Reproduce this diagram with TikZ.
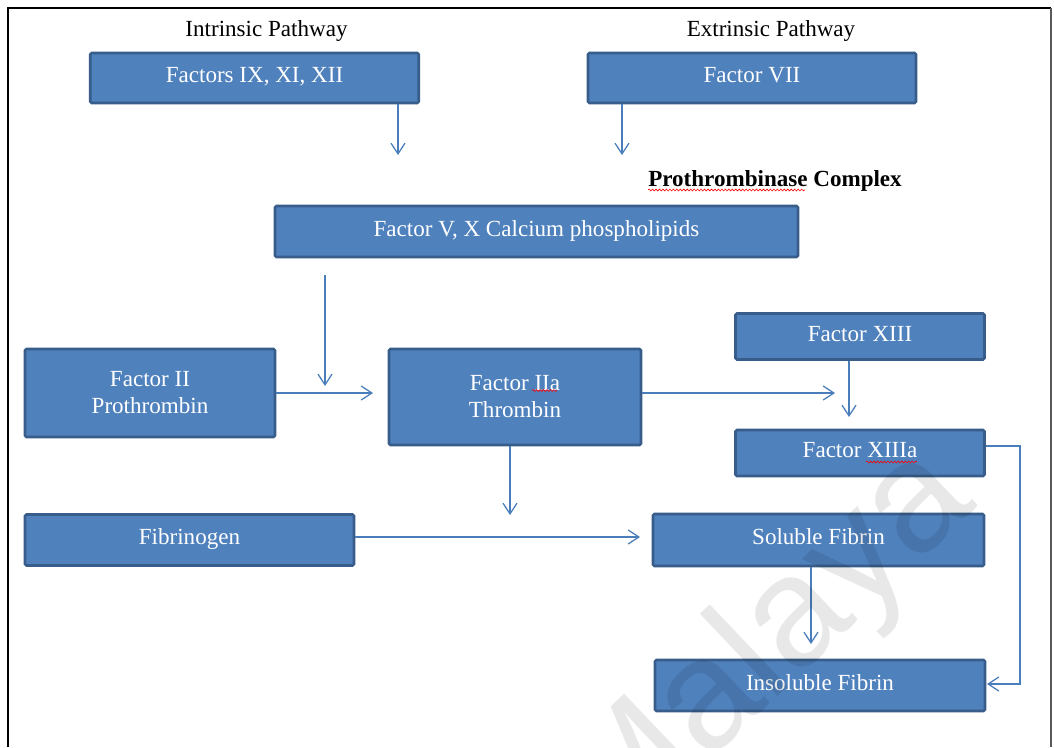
\documentclass[tikz,border=0pt]{standalone}
\usepackage{fontspec}
\setmainfont{Liberation Serif}
\newfontfamily\wmfont{Liberation Sans}
\usetikzlibrary{arrows.meta,decorations.pathmorphing}
\definecolor{boxfill}{RGB}{79,129,189}
\definecolor{boxline}{RGB}{56,93,138}
\definecolor{arrcol}{RGB}{74,126,187}
\newcommand\boxfont{\fontsize{17.3}{20.25}\selectfont}
\begin{document}
\begin{tikzpicture}[x=0.75pt,y=-0.75pt,
  box/.style={draw=boxline, line width=1.9pt, fill=boxfill, rounded corners=1pt,
    text=white, font=\boxfont, inner sep=0pt, align=center},
  one/.style={text height=12pt, text depth=5.1pt},
  sz/.style 2 args={minimum width=#1*0.75pt, minimum height=#2*0.75pt},
  arr/.style={draw=arrcol, line width=0.95pt, -{Straight Barb[length=8pt,width=10.5pt]}},
  title/.style={font=\boxfont, text=black, inner sep=0pt},
  wavy/.style={draw=red, line width=0.45pt, decorate,
    decoration={snake, amplitude=0.7pt, segment length=2.6pt}}
]
\useasboundingbox (0,0) rectangle (1054,747);
\fill[white] (0,0) rectangle (1054,747);

% frame
\draw[black, line width=1.5pt] (8,747) -- (8,8) -- (1051,8);
\draw[black!65, line width=1pt] (1051,8) -- (1051,747);

% titles
\node[title, anchor=base] (intr) at (266.5,36.7) {Intrinsic Pathway};
\node[title, anchor=base] (extr) at (771,36.7) {Extrinsic Pathway};
\node[title, anchor=base west, font=\boxfont\bfseries] (ptc) at (648,186.6) {Prothrombinase Complex};

% boxes
\node[box,one,sz={328.5}{50}] (f9) at (254.5,78) {Factors IX, XI, XII};
\node[box,one,sz={328}{50}] (f7) at (752,78) {Factor VII};
\node[box,one,sz={523}{51}] (f5) at (536.5,231.5) {Factor V, X Calcium phospholipids};
\node[box,sz={250}{88}] (f2) at (150,393) {Factor II\\Prothrombin};
\node[box,sz={252}{96}] (f2a) at (515,397) {Factor IIa\\Thrombin};
\node[box,one,sz={249}{46}] (f13) at (860,336.5) {Factor XIII};
\node[box,one,sz={249}{46}] (f13a) at (860,453) {Factor XIIIa};
\node[box,one,sz={329}{51}] (fib) at (189.5,540) {Fibrinogen};
\node[box,one,sz={331}{52}] (sol) at (818.5,540) {Soluble Fibrin};
\node[box,one,sz={330}{51}] (ins) at (820,685.5) {Insoluble Fibrin};

% spell-check underlines
\draw[wavy] (648,190) -- (805,190);
\draw[wavy] (532,390.5) -- (557,390.5);
\draw[wavy] (866,462) -- (917,462);

% connectors
\coordinate (a1) at (398,155);
\draw[arr] (f9.south -| a1) -- (a1);
\coordinate (a2) at (622,155);
\draw[arr] (f7.south -| a2) -- (a2);
\coordinate (a3s) at (325,275);
\coordinate (a3e) at (325,386);
\draw[arr] (a3s) -- (a3e);
\coordinate (a4) at (373,393);
\draw[arr] (f2.east |- a4) -- (a4);
\coordinate (a5) at (835,393);
\draw[arr] (f2a.east |- a5) -- (a5);
\coordinate (a6) at (849,417);
\draw[arr] (f13.south -| a6) -- (a6);
\coordinate (a7) at (510,515);
\draw[arr] (f2a.south -| a7) -- (a7);
\coordinate (a8) at (640,537);
\draw[arr] (fib.east |- a8) -- (a8);
\coordinate (a9) at (811,644);
\draw[arr] (sol.south -| a9) -- (a9);
\coordinate (c1) at (1020,446);
\coordinate (c2) at (987,684);
\draw[arr] (f13a.east |- c1) -- (c1) |- (c2);

% watermark
\begin{scope}
\clip (0,0) rectangle (1054,747);
\node[font=\wmfont\fontsize{117}{117}\selectfont, text=black, opacity=0.09, rotate=43.5] (wm) at (768,650) {Malaya};
\end{scope}
\end{tikzpicture}
\end{document}
